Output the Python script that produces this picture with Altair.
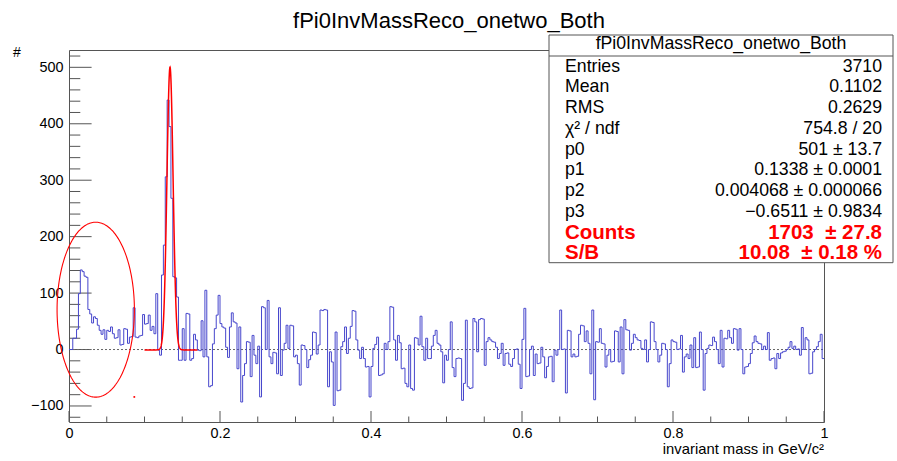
import altair as alt
import numpy as np
import pandas as pd

# ---------------- data ----------------
counts_000_099 = [
    0, 0, 20, 20, 36, 99, 141, 138, 130, 128,
    71, 63, 47, 58, 55, 43, 34, 27, 35, 18,
    34, 32, 40, 28, 20, 21, 35, 8, 9, 37,
    36, 11, 22, 23, 74, 22, 21, 24, 25, 62,
    45, 46, 61, 34, 41, 28, 99, -1, -10, 132,
    185, 306, 442, 395, 268, 129, 127, 93, -19, -19,
    37, -19, 64, 63, -19, -16, 27, 17, -1, -2,
    51, -13, 105, -13, -66, -64, 10, 37, 61, 96,
    46, 40, 38, 4, -14, 40, 65, 49, 47, -34,
    40, -93, -46, -25, 14, 13, -48, 25, -10, -25,
]
counts_100_199 = [
    6, -84, 76, 74, 0, 87, -13, -25, -5, -6,
    -43, 74, -46, -1, 11, 43, 2, 43, 42, -13,
    -10, -25, -63, 8, 7, 0, -32, -18, -10, 31,
    30, -8, 8, 70, 69, 71, 70, -66, -4, -22,
    -99, 31, -73, -72, 5, 14, 40, -7, 20, 41,
    69, 68, 17, -1, -16, 4, -16, -31, -30, -84,
    -30, 2, 9, 22, -46, -45, -43, 11, 0, 14,
    76, 75, 17, -19, 25, 12, -34, -33, -60, -66,
    8, -69, -72, 21, 20, 8, 59, 5, -19, 20,
    -16, -16, 6, 25, 34, 11, 8, -4, -59, -10,
]
counts_200_299 = [
    -19, 0, 49, -32, -48, -16, -15, -16, -90, -60,
    52, -66, -69, -68, 55, 49, -4, 53, 55, 54,
    -28, 14, 21, 17, 14, 13, 4, -16, -7, 11,
    -28, -7, -6, -26, -30, -16, 0, 1, -26, -69,
    18, 73, -48, -47, 0, 6, -46, -8, -25, -24,
    4, -13, -50, -30, -13, -12, -57, -1, -10, 0,
    70, 0, 1, -77, 34, 33, -13, -8, -13, -12,
    27, 43, 42, 14, 33, 11, -43, 70, -89, 14,
    13, 37, 11, 10, -31, -10, 0, -22, -21, 33,
    32, -22, 40, -43, 53, 35, 34, -1, 11, 27,
]
counts_300_399 = [
    21, 17, 16, 2, 0, 17, -22, 0, 49, 48,
    14, 0, -22, -10, 11, 10, 0, -66, -25, 17,
    14, 13, 0, 1, 25, -40, -13, -8, -16, 8,
    -32, 21, -32, -31, 31, 0, -72, -7, 2, 8,
    7, 22, 14, 0, -25, 34, -31, 20, 19, 34,
    21, 11, 37, 36, -1, 37, 0, -43, -31, -30,
    -25, -7, 12, 24, 14, 11, 10, 0, 6, 0,
    30, -19, -16, -15, -34, -7, -16, -6, -4, -3,
    0, 4, 14, 2, 6, 0, 1, -10, 39, 0,
    21, 17, -43, -42, -4, 0, 5, 14, 27, -16,
]
counts = counts_000_099 + counts_100_199 + counts_200_299 + counts_300_399

x_min, x_max = 0.0, 1.0
y_min, y_max = -128.4, 530.7

# fit parameters (Gaussian + constant), fit range
fit_params = [501.0, 0.1338, 0.004068, -0.6511]
fit_range = [0.10, 0.17]

# annotation ellipse (centre x, centre y, half-width, half-height) and stray dot
ellipse_par = [0.0354, 70.6, 0.0512, 155.0]
dot_xy = [0.0865, -84.0]

# axis ticks
x_major = [0, 0.2, 0.4, 0.6, 0.8, 1.0]
x_minor = [0.05, 0.1, 0.15, 0.25, 0.3, 0.35, 0.45, 0.5, 0.55, 0.65,
           0.7, 0.75, 0.85, 0.9, 0.95]
y_major = [-100, 0, 100, 200, 300, 400, 500]
y_minor = [v for v in range(-120, 521, 20) if v % 100 != 0]

# texts
hist_title = "fPi0InvMassReco_onetwo_Both"
x_title = "invariant mass in GeV/c²"
y_title = "#"
stat_labels = ["Entries", "Mean", "RMS", "χ² / ndf", "p0", "p1", "p2", "p3"]
stat_values = ["3710", "0.1102", "0.2629", "754.8 / 20", "501 ± 13.7",
               "0.1338 ± 0.0001", "0.004068 ± 0.000066", "−0.6511 ± 0.9834"]
red_labels = ["Counts", "S/B"]
red_values = ["1703\u00a0\u00a0± 27.8", "10.08\u00a0\u00a0± 0.18 %"]

# ---------------- build tables ----------------
n_bins = len(counts)
bw = (x_max - x_min) / n_bins
hist = pd.DataFrame({
    "x": [x_min + i * bw for i in range(n_bins)] + [x_max],
    "y": counts + [counts[-1]],
})

p0, p1, p2, p3 = fit_params
fx = np.linspace(fit_range[0], fit_range[1], 301)
fit = pd.DataFrame({"x": fx, "y": p0 * np.exp(-0.5 * ((fx - p1) / p2) ** 2) + p3})

t = np.linspace(0, 2 * np.pi, 241)
ell = pd.DataFrame({
    "x": ellipse_par[0] + ellipse_par[2] * np.cos(t),
    "y": ellipse_par[1] + ellipse_par[3] * np.sin(t),
    "o": np.arange(len(t)),
})

PLOT_W, PLOT_H = 755, 372
px_per_y = PLOT_H / (y_max - y_min)
ytick_len_major = 22.6 / PLOT_W
ytick_len_minor = 11.3 / PLOT_W
xtick_len_major = 11.0 / px_per_y
xtick_len_minor = 5.5 / px_per_y

yt = pd.DataFrame({
    "y": y_major + y_minor,
    "x0": [0.0] * (len(y_major) + len(y_minor)),
    "x1": [ytick_len_major] * len(y_major) + [ytick_len_minor] * len(y_minor),
})
xt = pd.DataFrame({
    "x": x_major + x_minor,
    "y0": [y_min] * (len(x_major) + len(x_minor)),
    "y1": [y_min + xtick_len_major] * len(x_major) + [y_min + xtick_len_minor] * len(x_minor),
})
zero = pd.DataFrame({"x": [x_min], "x2": [x_max], "y": [0.0]})
dot = pd.DataFrame({"x": [dot_xy[0]], "y": [dot_xy[1]]})

FONT = "Liberation Sans"
GREY = "#555555"
xs = alt.Scale(domain=[x_min, x_max], nice=False, zero=False)
ys = alt.Scale(domain=[y_min, y_max], nice=False, zero=False)
one = pd.DataFrame({"k": [0]})

x_axis = alt.Axis(
    values=x_major, format="~g", ticks=False, grid=False, domain=False,
    labelFont=FONT, labelFontSize=14.4, labelColor="#000", labelPadding=4,
    labelFlush=False, title=None)
y_axis = alt.Axis(
    values=y_major, ticks=False, grid=False, domain=False,
    labelExpr="replace(datum.label, '-', '\u2212')",
    labelFont=FONT, labelFontSize=14.4, labelColor="#000", labelPadding=6,
    labelFlush=False, title=None)


def X(f):
    return alt.X(f, scale=xs, axis=x_axis)


def Y(f):
    return alt.Y(f, scale=ys, axis=y_axis)


hist_layer = alt.Chart(hist).mark_line(
    interpolate="step-after", color="#4646cc", strokeWidth=1
).encode(x=X("x:Q"), y=Y("y:Q"))

ytick_layer = alt.Chart(yt).mark_rule(color=GREY, strokeWidth=1).encode(
    x=X("x0:Q"), x2="x1:Q", y=Y("y:Q"))
xtick_layer = alt.Chart(xt).mark_rule(color=GREY, strokeWidth=1).encode(
    x=X("x:Q"), y=Y("y0:Q"), y2="y1:Q")
zero_layer = alt.Chart(zero).mark_rule(color="#666", strokeWidth=1, strokeDash=[2, 2]).encode(
    x=X("x:Q"), x2="x2:Q", y=Y("y:Q"))
fit_layer = alt.Chart(fit).mark_line(color="#ff0000", strokeWidth=1.5).encode(
    x=X("x:Q"), y=Y("y:Q"))
ell_layer = alt.Chart(ell).mark_line(color="#ff0000", strokeWidth=1.1).encode(
    x=X("x:Q"), y=Y("y:Q"), order="o:Q")
dot_layer = alt.Chart(dot).mark_square(color="#ff0000", size=3, opacity=1).encode(
    x=X("x:Q"), y=Y("y:Q"))

# stats box (pixel positions relative to the plot origin)
BOX_L, BOX_R, BOX_T, BOX_B = 480, 824, -15, 212.7
box = alt.Chart(one).mark_rect(fill="white", stroke=GREY, strokeWidth=1).encode(
    x=alt.value(BOX_L), x2=alt.value(BOX_R), y=alt.value(BOX_T), y2=alt.value(BOX_B))
sep = alt.Chart(one).mark_rule(color=GREY, strokeWidth=1).encode(
    x=alt.value(BOX_L), x2=alt.value(BOX_R), y=alt.value(6))


def txt(s, px, py, size, align="left", color="#000", weight="normal"):
    return alt.Chart(one).mark_text(
        text=s, align=align, baseline="middle", font=FONT, fontSize=size,
        color=color, fontWeight=weight
    ).encode(x=alt.value(px), y=alt.value(py))


texts = [txt(hist_title, (BOX_L + BOX_R) / 2, -6, 17.7, align="center")]
ROW0, ROWH = 16.5, 20.76
LAB_X, VAL_X = 496, 813
for i, (lab, val) in enumerate(zip(stat_labels, stat_values)):
    texts.append(txt(lab, LAB_X, ROW0 + i * ROWH, 17.7))
    texts.append(txt(val, VAL_X, ROW0 + i * ROWH, 17.7, align="right"))
for j, (lab, val) in enumerate(zip(red_labels, red_values)):
    py = ROW0 + (len(stat_labels) + j) * ROWH
    texts.append(txt(lab, LAB_X, py, 20.5, color="#ff0000", weight="bold"))
    texts.append(txt(val, VAL_X, py, 20.5, align="right", color="#ff0000", weight="bold"))

texts.append(txt(hist_title, 380, -29, 22, align="center"))
texts.append(txt(x_title, PLOT_W, 400, 14.8, align="right"))
texts.append(txt(y_title, -52, 3, 14, align="center"))

chart = alt.layer(
    ytick_layer, xtick_layer, zero_layer, hist_layer, fit_layer, ell_layer, dot_layer,
    box, sep, *texts
).properties(
    width=PLOT_W, height=PLOT_H,
    padding={"left": 69, "top": 50, "right": 73, "bottom": 39},
    autosize=alt.AutoSizeParams(type="none"),
    background="white",
).configure_view(stroke=GREY, strokeWidth=1)

chart.save("out.html", embed_options={"renderer": "svg", "actions": False})
